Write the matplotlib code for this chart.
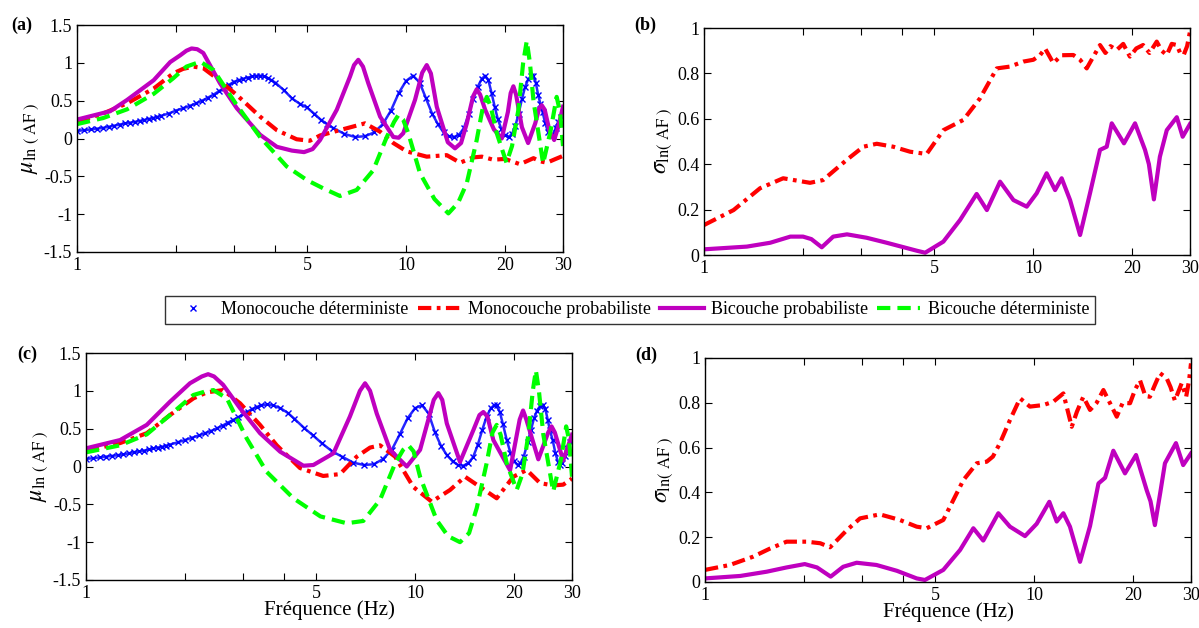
import numpy as np
import matplotlib
matplotlib.use('Agg')
import matplotlib.pyplot as plt
from matplotlib.lines import Line2D

plt.rcParams['font.family'] = ['Liberation Serif', 'DejaVu Serif']
plt.rcParams['mathtext.fontset'] = 'stix'
plt.rcParams['font.size'] = 10

# ---------------- data ----------------
# (a) mean ln(AF)
a_mono_det_f = [1.0, 1.05, 1.1, 1.15, 1.2, 1.25, 1.3, 1.35, 1.4, 1.45, 1.5, 1.55, 1.6, 1.65, 1.7, 1.75, 1.8,
                1.9, 2.0, 2.1, 2.2, 2.3, 2.4, 2.5, 2.6, 2.7, 2.8, 2.9, 3.0, 3.1, 3.2, 3.3, 3.4, 3.5, 3.6,
                3.7, 3.8, 3.9, 4.0, 4.25, 4.5, 4.75, 5.0, 5.25, 5.5, 5.75, 6.0, 6.5, 7.0, 7.5, 8.0, 8.5, 9.0,
                9.5, 10.0, 10.5, 11.0, 11.5, 12.0, 12.5, 13.0, 13.5, 14.0, 14.5, 15.0, 15.5, 16.0, 16.5, 17.0,
                17.4, 17.8, 18.2, 18.6, 19.0, 19.5, 20.0, 20.5, 21.0, 21.5, 22.0, 22.5, 23.0, 23.5, 24.0, 24.4,
                24.8, 25.2, 25.6, 26.0, 26.5, 27.0, 27.5, 28.0, 28.5, 29.0, 29.5, 30.0]
a_mono_det = [0.10, 0.11, 0.12, 0.13, 0.14, 0.155, 0.17, 0.185, 0.20, 0.21, 0.22, 0.232, 0.245, 0.258, 0.27,
              0.285, 0.30, 0.33, 0.37, 0.40, 0.43, 0.465, 0.50, 0.54, 0.58, 0.625, 0.67, 0.71, 0.75, 0.77,
              0.79, 0.805, 0.82, 0.828, 0.83, 0.82, 0.80, 0.77, 0.74, 0.64, 0.53, 0.46, 0.41, 0.33, 0.25,
              0.19, 0.14, 0.06, 0.02, 0.03, 0.08, 0.19, 0.37, 0.60, 0.76, 0.83, 0.74, 0.53, 0.33, 0.19, 0.08,
              0.03, 0.02, 0.05, 0.14, 0.32, 0.52, 0.68, 0.79, 0.83, 0.77, 0.60, 0.42, 0.26, 0.12, 0.04, 0.02,
              0.06, 0.17, 0.33, 0.52, 0.68, 0.78, 0.83, 0.83, 0.74, 0.58, 0.46, 0.35, 0.20, 0.09, 0.04, 0.05,
              0.14, 0.22, 0.28, 0.31]

a_mono_prob_f = [1.0, 1.2, 1.42, 1.71, 1.96, 2.1, 2.26, 2.42, 2.66, 3.06, 3.6, 4.05, 4.65, 5.1, 5.48, 6.6, 7.5,
                 8.34, 9.15, 10.05, 11.56, 13.3, 14.6, 16.0, 17.0, 18.4, 20.0, 22.2, 24.4, 25.5, 26.8, 28.5, 30.0]
a_mono_prob = [0.22, 0.33, 0.465, 0.66, 0.86, 0.92, 0.95, 0.93, 0.795, 0.575, 0.29, 0.11, -0.01, -0.03, 0.04,
               0.135, 0.20, 0.09, -0.06, -0.17, -0.24, -0.22, -0.32, -0.25, -0.24, -0.28, -0.27, -0.34, -0.26,
               -0.30, -0.32, -0.27, -0.23]

a_bi_prob_f = [1.0, 1.26, 1.42, 1.71, 1.92, 2.06, 2.15, 2.23, 2.32, 2.42, 2.72, 3.06, 3.6, 4.05, 4.5, 4.9, 5.2,
               5.48, 6.16, 6.76, 6.95, 7.16, 7.4, 7.68, 8.34, 9.15, 9.5, 9.81, 10.65, 11.2, 11.56, 11.9, 12.4,
               13.4, 14.09, 14.7, 15.3, 16.0, 16.4, 16.8, 17.4, 18.5, 19.54, 20.4, 20.8, 21.2, 21.6, 22.5, 23.5,
               24.7, 25.4, 25.85, 26.4, 27.3, 28.2, 29.0, 30.0]
a_bi_prob = [0.25, 0.36, 0.51, 0.77, 1.01, 1.10, 1.16, 1.19, 1.18, 1.13, 0.73, 0.40, 0.05, -0.11, -0.16, -0.18,
             -0.14, -0.02, 0.38, 0.82, 0.97, 1.04, 0.95, 0.73, 0.29, 0.02, 0.01, 0.07, 0.51, 0.87, 0.97, 0.86,
             0.42, -0.05, -0.13, -0.06, 0.20, 0.56, 0.65, 0.58, 0.38, 0.12, 0.0, 0.35, 0.60, 0.69, 0.58, 0.15,
             -0.06, 0.20, 0.40, 0.44, 0.38, 0.10, -0.02, 0.15, 0.42]

a_bi_det_f = [1.0, 1.2, 1.42, 1.71, 1.96, 2.15, 2.37, 2.6, 3.06, 3.6, 4.34, 5.0, 5.61, 6.3, 7.08, 7.95, 8.74,
              9.2, 9.48, 9.8, 10.16, 11.03, 12.2, 13.45, 14.4, 15.3, 16.4, 17.1, 17.6, 18.1, 18.87, 20.2, 21.0,
              21.95, 22.7, 23.28, 23.8, 24.4, 26.1, 27.5, 28.7, 29.4, 30.0]
a_bi_det = [0.19, 0.27, 0.386, 0.59, 0.795, 0.95, 1.015, 0.905, 0.44, 0.02, -0.37, -0.55, -0.66, -0.76, -0.68,
            -0.42, 0.02, 0.22, 0.31, 0.25, 0.07, -0.46, -0.80, -0.99, -0.85, -0.59, -0.02, 0.40, 0.55, 0.42,
            0.07, -0.32, -0.10, 0.377, 1.0, 1.29, 1.0, 0.50, -0.33, 0.10, 0.55, 0.35, -0.10]

# (b) std ln(AF)
b_mono_prob_f = [1.0, 1.23, 1.48, 1.74, 2.1, 2.3, 2.72, 3.05, 3.35, 3.76, 4.23, 4.75, 5.34, 6.14, 6.9, 7.76,
                 8.51, 9.34, 10.02, 10.5, 10.88, 11.53, 12.2, 13.26, 13.9, 14.56, 15.2, 15.98, 16.6, 17.2,
                 17.96, 18.8, 19.7, 20.6, 21.6, 22.6, 23.77, 24.6, 25.5, 26.4, 27.35, 28.0, 28.7, 29.4, 30.0]
b_mono_prob = [0.132, 0.198, 0.294, 0.338, 0.318, 0.33, 0.42, 0.477, 0.49, 0.477, 0.455, 0.445, 0.55, 0.595,
               0.69, 0.822, 0.83, 0.852, 0.86, 0.88, 0.91, 0.845, 0.88, 0.881, 0.86, 0.822, 0.87, 0.925, 0.89,
               0.92, 0.903, 0.93, 0.874, 0.91, 0.925, 0.89, 0.94, 0.90, 0.881, 0.93, 0.925, 0.89, 0.881, 0.92,
               0.984]

b_bi_prob_f = [1.0, 1.35, 1.59, 1.83, 2.0, 2.12, 2.28, 2.47, 2.72, 3.12, 3.59, 4.43, 4.7, 5.34, 6.0, 6.74,
               7.24, 7.94, 8.72, 9.57, 10.26, 11.0, 11.67, 12.22, 12.96, 13.9, 14.9, 15.98, 16.75, 17.35, 18.9,
               20.42, 21.9, 22.5, 23.3, 24.3, 25.5, 27.35, 28.5, 30.0]
b_bi_prob = [0.025, 0.037, 0.054, 0.081, 0.081, 0.07, 0.034, 0.081, 0.091, 0.076, 0.054, 0.019, 0.01, 0.059,
             0.154, 0.269, 0.198, 0.323, 0.242, 0.213, 0.272, 0.36, 0.286, 0.338, 0.242, 0.088, 0.272, 0.463,
             0.477, 0.58, 0.492, 0.58, 0.463, 0.40, 0.245, 0.433, 0.55, 0.607, 0.521, 0.577]

# (c) mean ln(AF)
c_mono_det_f = [1.0, 1.05, 1.1, 1.15, 1.2, 1.25, 1.3, 1.35, 1.4, 1.45, 1.5, 1.55, 1.6, 1.65, 1.7, 1.75, 1.8,
                1.9, 2.0, 2.1, 2.2, 2.3, 2.4, 2.5, 2.6, 2.7, 2.8, 2.9, 3.0, 3.1, 3.2, 3.3, 3.4, 3.55,
                3.7, 3.9, 4.1, 4.3, 4.6, 4.9, 5.2, 5.6, 6.0, 6.5, 7.0, 7.5, 8.0, 8.5, 9.0, 9.5, 10.0, 10.5, 11.0,
                11.5, 12.0, 12.5, 13.0, 13.5, 14.0, 14.5, 15.0, 15.5, 16.0, 16.5, 17.0, 17.4, 17.7, 18.1, 18.5,
                19.0, 19.5, 20.0, 20.5, 20.9, 21.4, 22.0, 22.5, 23.0, 23.5, 24.0, 24.5, 24.9, 25.3, 25.7, 26.2,
                26.7, 27.2, 27.6, 28.0, 28.5, 29.0, 29.5, 30.0]
c_mono_det = [0.10, 0.11, 0.12, 0.13, 0.14, 0.15, 0.16, 0.175, 0.19, 0.20, 0.21, 0.225, 0.24, 0.25, 0.26,
              0.275, 0.29, 0.32, 0.35, 0.38, 0.41, 0.44, 0.47, 0.505, 0.54, 0.58, 0.615, 0.65, 0.69, 0.725,
              0.76, 0.785, 0.81, 0.82, 0.81, 0.77, 0.71, 0.63, 0.51, 0.41, 0.31, 0.20, 0.13, 0.05, 0.02, 0.03,
              0.10, 0.22, 0.43, 0.64, 0.77, 0.81, 0.70, 0.45, 0.27, 0.15, 0.07, 0.02, 0.01, 0.04, 0.12, 0.28,
              0.48, 0.66, 0.77, 0.81, 0.81, 0.72, 0.56, 0.35, 0.18, 0.07, 0.02, 0.04, 0.13, 0.32, 0.48, 0.64,
              0.74, 0.80, 0.81, 0.76, 0.62, 0.48, 0.35, 0.18, 0.06, 0.02, 0.05, 0.14, 0.25, 0.33, 0.37]

c_mono_prob_f = [1.0, 1.27, 1.53, 1.8, 2.12, 2.33, 2.61, 2.94, 3.38, 3.8, 4.47, 5.26, 5.92, 6.65, 7.3, 7.83, 8.7,
                 9.88, 11.24, 12.78, 14.19, 15.76, 17.71, 19.9, 21.86, 24.0, 26.3, 28.2, 30.0]
c_mono_prob = [0.205, 0.31, 0.44, 0.68, 0.90, 0.98, 1.01, 0.835, 0.55, 0.28, -0.02, -0.125, -0.10, 0.13, 0.25,
               0.28, 0.13, -0.27, -0.465, -0.31, -0.135, -0.27, -0.42, -0.135, -0.046, -0.22, -0.25, -0.24, -0.16]

c_bi_prob_f = [1.0, 1.27, 1.53, 1.8, 2.07, 2.25, 2.35, 2.45, 2.61, 2.94, 3.38, 3.89, 4.58, 4.91, 5.65, 6.34,
               6.8, 7.05, 7.3, 7.65, 8.4, 9.44, 10.36, 11.4, 11.77, 12.1, 12.49, 13.7, 15.04, 15.7, 16.13, 16.6,
               17.3, 19.45, 20.8, 21.3, 21.8, 23.7, 25.4, 26.0, 26.6, 28.2, 30.0]
c_bi_prob = [0.24, 0.35, 0.55, 0.856, 1.10, 1.19, 1.22, 1.19, 1.08, 0.77, 0.44, 0.196, 0.01, 0.02, 0.174, 0.66,
             1.0, 1.1, 1.0, 0.70, 0.22, 0.0, 0.22, 0.88, 0.97, 0.88, 0.57, 0.06, 0.48, 0.68, 0.72, 0.66, 0.35,
             -0.05, 0.62, 0.74, 0.62, 0.095, 0.45, 0.53, 0.45, 0.08, 0.42]

c_bi_det_f = [1.0, 1.27, 1.53, 1.8, 2.12, 2.3, 2.44, 2.68, 3.08, 3.54, 4.27, 5.16, 6.2, 6.96, 7.83, 8.7, 9.2,
              9.55, 9.9, 10.36, 11.64, 12.6, 13.7, 14.6, 15.4, 16.5, 17.2, 17.71, 18.2, 19.0, 20.37, 21.2, 22.1,
              22.8, 23.3, 23.8, 24.55, 26.3, 27.8, 28.8, 29.4, 30.0]
c_bi_det = [0.187, 0.28, 0.425, 0.68, 0.945, 0.99, 1.01, 0.90, 0.37, -0.07, -0.42, -0.66, -0.75, -0.72, -0.44,
            0.04, 0.22, 0.28, 0.20, -0.135, -0.71, -0.92, -1.0, -0.88, -0.55, 0.04, 0.45, 0.55, 0.42, 0.04,
            -0.31, -0.10, 0.42, 1.0, 1.27, 1.0, 0.42, -0.33, 0.10, 0.53, 0.35, -0.135]

# (d) std ln(AF)
d_mono_prob_f = [1.0, 1.19, 1.4, 1.58, 1.77, 2.04, 2.24, 2.4, 2.7, 2.96, 3.4, 3.91, 4.4, 4.72, 5.3, 6.1, 6.7,
                 7.18, 7.5, 7.88, 8.45, 9.07, 9.72, 10.67, 11.45, 12.28, 13.02, 13.5, 14.12, 14.8, 15.5, 16.25,
                 17.0, 17.84, 18.6, 19.58, 20.3, 21.0, 21.8, 22.5, 23.3, 24.15, 25.3, 26.0, 26.8, 28.1, 29.0,
                 29.6, 30.0]
d_mono_prob = [0.054, 0.076, 0.113, 0.15, 0.18, 0.18, 0.173, 0.155, 0.232, 0.284, 0.302, 0.277, 0.247, 0.24,
               0.277, 0.455, 0.53, 0.537, 0.56, 0.62, 0.723, 0.82, 0.783, 0.79, 0.805, 0.842, 0.693, 0.76,
               0.827, 0.768, 0.80, 0.857, 0.80, 0.738, 0.80, 0.798, 0.86, 0.90, 0.83, 0.827, 0.88, 0.932, 0.91,
               0.87, 0.81, 0.887, 0.827, 0.90, 0.976]

d_bi_prob_f = [1.0, 1.28, 1.54, 1.77, 2.01, 2.19, 2.41, 2.63, 2.89, 3.32, 3.83, 4.4, 4.66, 5.3, 5.96, 6.54,
               7.01, 7.79, 8.45, 9.39, 10.19, 11.13, 11.72, 12.28, 12.86, 13.8, 14.8, 15.7, 16.44, 17.42, 18.9,
               20.42, 22.0, 22.6, 23.3, 24.2, 25.0, 27.0, 28.4, 30.0]
d_bi_prob = [0.016, 0.027, 0.046, 0.065, 0.08, 0.065, 0.024, 0.068, 0.086, 0.076, 0.05, 0.016, 0.009, 0.054,
             0.143, 0.24, 0.185, 0.307, 0.247, 0.205, 0.26, 0.358, 0.27, 0.307, 0.247, 0.09, 0.25, 0.44, 0.465,
             0.586, 0.485, 0.567, 0.41, 0.36, 0.254, 0.40, 0.53, 0.62, 0.522, 0.574]

legend_labels = ['Monocouche déterministe', 'Monocouche probabiliste', 'Bicouche probabiliste',
                 'Bicouche déterministe']
xticks = [1, 2, 3, 4, 5, 10, 20, 30]
xtick_labels = ['1', '', '', '', '5', '10', '20', '30']

# ---------------- styles ----------------
BLUE = '#0000FF'
RED = '#FF0000'
MAG = '#BF00BF'
GREEN = '#00FF00'
RED_DASH = (3.2, 1.3, 0.9, 1.3)
GREEN_DASH = (3.2, 1.7)


def plot_mono_det(ax, f, v):
    ax.plot(f, v, color=BLUE, lw=1.8, alpha=0.85)
    ax.plot(f, v, color=BLUE, ls='none', marker='x', ms=4.5, mew=1.0)


def plot_mono_prob(ax, f, v):
    ax.plot(f, v, color=RED, lw=3.0, dashes=RED_DASH)


def plot_bi_prob(ax, f, v):
    ax.plot(f, v, color=MAG, lw=3.0)


def plot_bi_det(ax, f, v):
    ax.plot(f, v, color=GREEN, lw=3.0, dashes=GREEN_DASH)


def style_axes(ax, ylim, yticks, ylabels, ylabel):
    ax.set_xscale('log')
    ax.set_xlim(1, 30)
    ax.set_xticks(xticks)
    ax.set_xticklabels(xtick_labels)
    ax.xaxis.set_minor_locator(matplotlib.ticker.NullLocator())
    ax.set_ylim(*ylim)
    ax.set_yticks(yticks)
    ax.set_yticklabels(ylabels)
    ax.tick_params(direction='in', top=True, right=True, length=5, width=0.8, labelsize=13)
    for s in ax.spines.values():
        s.set_linewidth(1.0)
    ax.set_ylabel(ylabel, fontsize=17, labelpad=2)


W, H = 1199, 628
fig = plt.figure(figsize=(W / 100, H / 100), dpi=100)

ax_a = fig.add_axes([77 / W, 1 - 252 / H, 486 / W, 227 / H])
ax_b = fig.add_axes([704 / W, 1 - 255 / H, 486 / W, 227 / H])
ax_c = fig.add_axes([86 / W, 1 - 580 / H, 486 / W, 227 / H])
ax_d = fig.add_axes([705 / W, 1 - 582 / H, 486 / W, 224 / H])

mu_lab = r'$\mu_{\mathrm{ln\ (\ AF\ )}}$'
sig_lab = r'$\sigma_{\mathrm{ln(\ AF\ )}}$'
mu_ticks = [-1.5, -1, -0.5, 0, 0.5, 1, 1.5]
mu_labels = ['-1.5', '-1', '-0.5', '0', '0.5', '1', '1.5']
sig_ticks = [0, 0.2, 0.4, 0.6, 0.8, 1]
sig_labels = ['0', '0.2', '0.4', '0.6', '0.8', '1']

# (a)
plot_mono_det(ax_a, a_mono_det_f, a_mono_det)
plot_mono_prob(ax_a, a_mono_prob_f, a_mono_prob)
plot_bi_prob(ax_a, a_bi_prob_f, a_bi_prob)
plot_bi_det(ax_a, a_bi_det_f, a_bi_det)
style_axes(ax_a, (-1.5, 1.5), mu_ticks, mu_labels, mu_lab)

# (b)
plot_mono_prob(ax_b, b_mono_prob_f, b_mono_prob)
plot_bi_prob(ax_b, b_bi_prob_f, b_bi_prob)
style_axes(ax_b, (0, 1), sig_ticks, sig_labels, sig_lab)

# (c)
plot_mono_det(ax_c, c_mono_det_f, c_mono_det)
plot_mono_prob(ax_c, c_mono_prob_f, c_mono_prob)
plot_bi_prob(ax_c, c_bi_prob_f, c_bi_prob)
plot_bi_det(ax_c, c_bi_det_f, c_bi_det)
style_axes(ax_c, (-1.5, 1.5), mu_ticks, mu_labels, mu_lab)
ax_c.set_xlabel('Fréquence (Hz)', fontsize=15, labelpad=-1)

# (d)
plot_mono_prob(ax_d, d_mono_prob_f, d_mono_prob)
plot_bi_prob(ax_d, d_bi_prob_f, d_bi_prob)
style_axes(ax_d, (0, 1), sig_ticks, sig_labels, sig_lab)
ax_d.set_xlabel('Fréquence (Hz)', fontsize=15, labelpad=-1)

# panel letters
for txt, x, y in [('(a)', 22, 25), ('(b)', 645, 25), ('(c)', 27, 354), ('(d)', 646, 355)]:
    fig.text(x / W, 1 - y / H, txt, fontsize=13, fontweight='bold', ha='center', va='center')

handles = [Line2D([], [], color=BLUE, ls='none', marker='x', ms=4.5, mew=1.0),
           Line2D([], [], color=RED, lw=3.0, dashes=RED_DASH),
           Line2D([], [], color=MAG, lw=3.0),
           Line2D([], [], color=GREEN, lw=3.0, dashes=GREEN_DASH)]
leg = fig.legend(handles, legend_labels, loc='center', ncol=4,
                 bbox_to_anchor=(630 / W, 1 - 310 / H), fontsize=13, frameon=True, fancybox=False,
                 edgecolor='black', handlelength=2.4, columnspacing=0.5, handletextpad=0.4,
                 borderpad=0.3, borderaxespad=0)
leg.get_frame().set_linewidth(1.0)

fig.savefig('out.png', dpi=100)
